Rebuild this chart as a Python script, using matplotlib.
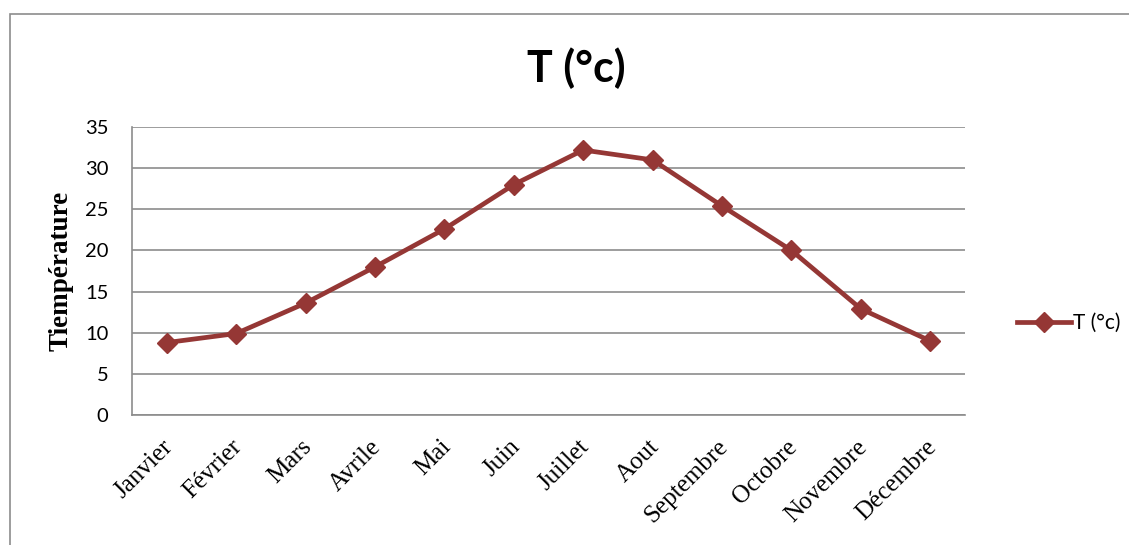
import matplotlib
matplotlib.use("Agg")
import matplotlib.pyplot as plt
from matplotlib.patches import Rectangle
from matplotlib.transforms import ScaledTranslation

months = ['Janvier', 'Février', 'Mars', 'Avrile', 'Mai', 'Juin', 'Juillet',
          'Aout', 'Septembre', 'Octobre', 'Novembre', 'Décembre']
temps = [8.8, 9.9, 13.6, 18.0, 22.6, 28.0, 32.2, 31.0, 25.4, 20.0, 12.9, 9.0]
yticks = [0, 5, 10, 15, 20, 25, 30, 35]

red = '#953735'
grid = '#8c8c8c'
sans = 'Lato'
serif = 'Liberation Serif'

fig = plt.figure(figsize=(11.29, 5.45), dpi=100)
ax = fig.add_axes([132/1129, 130/545, 833/1129, 288/545])

# outer chart border (only top and left show in the picture)
fig.patches.append(Rectangle((10/1129, -0.2), 1.2, 531/545 + 0.2,
                             transform=fig.transFigure, fill=False,
                             edgecolor='#8c8c8c', lw=1.2))

x = range(len(months))
ax.plot(x, temps, '-D', color=red, lw=3.4, markersize=10, label='T (°c)')

ax.set_xlim(-0.5, len(months) - 0.5)
ax.set_ylim(0, 35)
ax.set_yticks(yticks)
ax.set_yticklabels([str(v) for v in yticks], fontsize=14.5, family=sans)
ax.set_xticks(list(x))
ax.set_xticklabels(months, rotation=45, ha='right', va='top',
                   rotation_mode='anchor', fontsize=18, family=serif)
ax.tick_params(axis='y', length=0, pad=17)
ax.tick_params(axis='x', length=0, pad=15)
# nudge rotated labels a little to the left like the original
shift = ScaledTranslation(-5/100, 0, fig.dpi_scale_trans)
for lab in ax.get_xticklabels():
    lab.set_transform(lab.get_transform() + shift)

ax.yaxis.grid(True, color=grid, lw=1.2)
ax.set_axisbelow(True)
for s in ['top', 'right']:
    ax.spines[s].set_visible(False)
for s in ['left', 'bottom']:
    ax.spines[s].set_color(grid)
    ax.spines[s].set_linewidth(1.2)

ax.set_ylabel('Tiempérature', family=serif, fontweight='bold', fontsize=19.5,
              labelpad=8)
fig.text(576/1129, 1 - 68/545, 'T (°c)', ha='center', va='center',
         fontsize=31, fontweight='bold', family=sans)

ax.legend(loc='center left', bbox_to_anchor=(998/1129, 1 - 323/545),
          bbox_transform=fig.transFigure, frameon=False, handlelength=2.6,
          handletextpad=0.1, prop={'family': sans, 'size': 15})

fig.savefig('out.png', dpi=100)
